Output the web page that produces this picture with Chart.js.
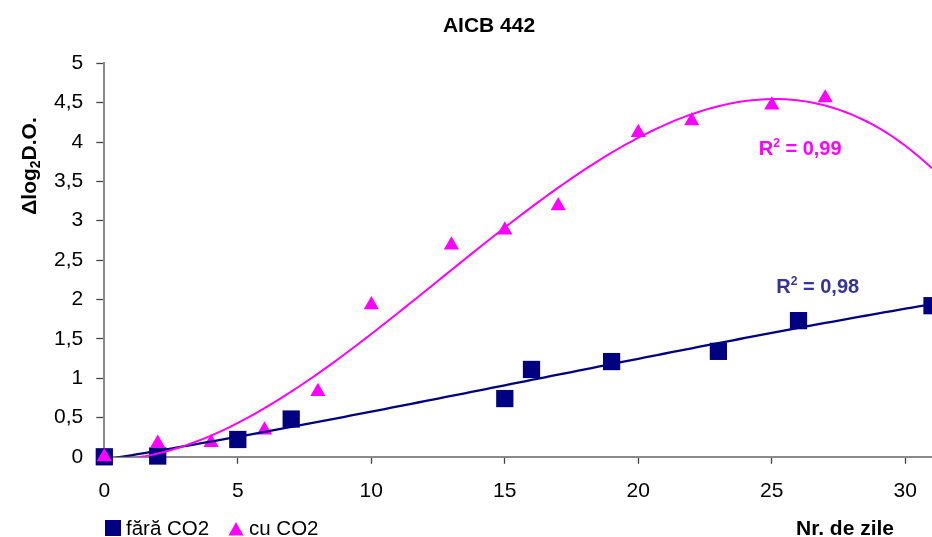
<!DOCTYPE html>
<html>
<head>
<meta charset="utf-8">
<script src="https://cdn.jsdelivr.net/npm/chart.js@4/dist/chart.umd.min.js"></script>
<style>
  html, body { margin: 0; padding: 0; background: #ffffff; }
  #wrap { position: relative; width: 932px; height: 537px; }
</style>
</head>
<body>
<div id="wrap"><canvas id="chart" width="932" height="537"></canvas></div>
<script>
// ---- data ----
const chartTitle = 'AICB 442';
const seriesNames = ['fără CO2', 'cu CO2'];
const xAxisTitle = 'Nr. de zile';

// fără CO2 (squares)
const daysFara = [0, 2, 5, 7, 15, 16, 19, 23, 26, 31];
const valuesFara = [0, 0.01, 0.22, 0.48, 0.74, 1.11, 1.21, 1.34, 1.73, 1.92];

// cu CO2 (triangles)
const daysCu = [0, 2, 4, 6, 8, 10, 13, 15, 17, 20, 22, 25, 27];
const valuesCu = [0, 0.17, 0.18, 0.34, 0.83, 1.93, 2.69, 2.88, 3.19, 4.12, 4.27, 4.47, 4.56];

// polynomial trend lines (order) and their R² labels
const trendOrderFara = 3;
const trendOrderCu = 3;
const r2Fara = '0,98';
const r2Cu = '0,99';

const xTickValues = [0, 5, 10, 15, 20, 25, 30];
const yTickValues = [0, 0.5, 1, 1.5, 2, 2.5, 3, 3.5, 4, 4.5, 5];

// ---- helpers ----
const FAMILY = '"Liberation Sans", Arial, Helvetica, sans-serif';
const NAVY = '#000080';
const MAGENTA = '#FF00FF';

const toPoints = (xs, ys) => xs.map((x, i) => ({ x, y: ys[i] }));
const fmt = v => String(v).replace('.', ',');

// least-squares polynomial fit, returns coefficients c0..cn
function polyfit(xs, ys, deg) {
  const n = deg + 1;
  const A = Array.from({ length: n }, () => new Array(n + 1).fill(0));
  for (let i = 0; i < xs.length; i++) {
    for (let r = 0; r < n; r++) {
      for (let c = 0; c < n; c++) A[r][c] += Math.pow(xs[i], r + c);
      A[r][n] += ys[i] * Math.pow(xs[i], r);
    }
  }
  for (let col = 0; col < n; col++) {
    let piv = col;
    for (let r = col + 1; r < n; r++) if (Math.abs(A[r][col]) > Math.abs(A[piv][col])) piv = r;
    [A[col], A[piv]] = [A[piv], A[col]];
    for (let r = 0; r < n; r++) {
      if (r === col) continue;
      const f = A[r][col] / A[col][col];
      for (let c = col; c <= n; c++) A[r][c] -= f * A[col][c];
    }
  }
  return A.map((row, i) => row[n] / row[i]);
}
const polyval = (coef, x) => coef.reduce((s, c, k) => s + c * Math.pow(x, k), 0);

const X_MIN = 0, X_MAX = 31;
function trendCurve(xs, ys, deg) {
  const coef = polyfit(xs, ys, deg);
  const pts = [];
  for (let k = 0; k <= 124; k++) {
    const x = X_MIN + (X_MAX - X_MIN) * k / 124;
    pts.push({ x, y: polyval(coef, x) });
  }
  return pts;
}

// ---- overlay: title, axis titles, R² labels, legend ----
function drawRich(ctx, parts, x, y, align) {
  // parts: [{text, size, dy}]
  let total = 0;
  for (const p of parts) { ctx.font = `bold ${p.size}px ${FAMILY}`; total += ctx.measureText(p.text).width; }
  let cx = align === 'center' ? x - total / 2 : x;
  ctx.textAlign = 'left';
  for (const p of parts) {
    ctx.font = `bold ${p.size}px ${FAMILY}`;
    ctx.fillText(p.text, cx, y + (p.dy || 0));
    cx += ctx.measureText(p.text).width;
  }
}

const overlay = {
  id: 'overlay',
  afterDraw(chart) {
    const ctx = chart.ctx;
    const xs = chart.scales.x, ys = chart.scales.y;
    ctx.save();
    ctx.textBaseline = 'alphabetic';

    // chart title
    ctx.fillStyle = '#000';
    ctx.font = `bold 21px ${FAMILY}`;
    ctx.textAlign = 'center';
    ctx.fillText(chartTitle, 489, 32);

    // y axis title (rotated, with subscript)
    ctx.save();
    ctx.translate(35.5, 166);
    ctx.rotate(-Math.PI / 2);
    drawRich(ctx, [
      { text: 'Δlog', size: 21 },
      { text: '2', size: 14, dy: 4 },
      { text: 'D.O.', size: 21 }
    ], 0, 0, 'center');
    ctx.restore();

    // x axis title
    ctx.font = `bold 21px ${FAMILY}`;
    ctx.textAlign = 'left';
    ctx.fillText(xAxisTitle, 796, 534.5);

    // R² labels
    ctx.fillStyle = MAGENTA;
    drawRich(ctx, [
      { text: 'R', size: 20 },
      { text: '2', size: 12, dy: -8 },
      { text: ' = ' + r2Cu, size: 20 }
    ], xs.getPixelForValue(24.51), ys.getPixelForValue(3.835), 'left');
    ctx.fillStyle = '#333399';
    drawRich(ctx, [
      { text: 'R', size: 20 },
      { text: '2', size: 12, dy: -8 },
      { text: ' = ' + r2Fara, size: 20 }
    ], xs.getPixelForValue(25.17), ys.getPixelForValue(2.077), 'left');

    // legend
    ctx.fillStyle = NAVY;
    ctx.fillRect(105, 520, 16, 16);
    ctx.fillStyle = '#000';
    ctx.font = `20.5px ${FAMILY}`;
    ctx.fillText(seriesNames[0], 126, 535);
    ctx.fillStyle = MAGENTA;
    ctx.beginPath();
    ctx.moveTo(236, 522);
    ctx.lineTo(243.5, 535.5);
    ctx.lineTo(228.5, 535.5);
    ctx.closePath();
    ctx.fill();
    ctx.fillStyle = '#000';
    ctx.fillText(seriesNames[1], 249, 535);

    ctx.restore();
  }
};

const tickFont = { family: FAMILY, size: 21 };

new Chart(document.getElementById('chart'), {
  type: 'scatter',
  data: {
    datasets: [
      {
        label: seriesNames[1] + ' trend',
        data: trendCurve(daysCu, valuesCu, trendOrderCu),
        showLine: true,
        borderColor: MAGENTA,
        borderWidth: 2,
        pointRadius: 0,
        tension: 0,
        order: 0
      },
      {
        label: seriesNames[0] + ' trend',
        data: trendCurve(daysFara, valuesFara, trendOrderFara),
        showLine: true,
        borderColor: NAVY,
        borderWidth: 2.3,
        pointRadius: 0,
        tension: 0,
        order: 1
      },
      {
        label: seriesNames[1],
        data: toPoints(daysCu, valuesCu),
        pointStyle: 'triangle',
        pointRadius: 8.8,
        pointBackgroundColor: MAGENTA,
        backgroundColor: MAGENTA,
        pointBorderWidth: 0,
        borderWidth: 0,
        clip: false,
        order: 2
      },
      {
        label: seriesNames[0],
        data: toPoints(daysFara, valuesFara),
        pointStyle: 'rect',
        pointRadius: 12.2,
        pointBackgroundColor: NAVY,
        backgroundColor: NAVY,
        pointBorderWidth: 0,
        borderWidth: 0,
        clip: false,
        order: 3
      }
    ]
  },
  options: {
    responsive: false,
    animation: false,
    events: [],
    layout: { autoPadding: false, padding: { top: 63.3, left: 0, right: 0, bottom: 0 } },
    plugins: {
      legend: { display: false },
      title: { display: false },
      tooltip: { enabled: false }
    },
    scales: {
      x: {
        type: 'linear',
        min: X_MIN,
        max: X_MAX,
        afterFit: s => { s.height = 80.2; s.paddingLeft = 0; s.paddingRight = 0; },
        afterBuildTicks: s => { s.ticks = xTickValues.map(v => ({ value: v })); },
        ticks: {
          color: '#000',
          font: tickFont,
          padding: 14.5,
          maxRotation: 0,
          autoSkip: false,
          includeBounds: false,
          callback: v => fmt(v)
        },
        grid: { drawOnChartArea: false, drawTicks: true, tickLength: 7, tickColor: '#444', tickWidth: 1.3 },
        border: { display: true, color: '#8a8a8a', width: 2 }
      },
      y: {
        type: 'linear',
        min: 0,
        max: 5,
        afterFit: s => { s.width = 104.3; s.paddingTop = 0; s.paddingBottom = 0; },
        afterBuildTicks: s => { s.ticks = yTickValues.map(v => ({ value: v })); },
        ticks: {
          color: '#000',
          font: tickFont,
          padding: 13,
          autoSkip: false,
          includeBounds: false,
          callback: v => fmt(v)
        },
        grid: { drawOnChartArea: false, drawTicks: true, tickLength: 8, tickColor: '#444', tickWidth: 1.3 },
        border: { display: true, color: '#8a8a8a', width: 2 }
      }
    }
  },
  plugins: [overlay]
});
</script>
</body>
</html>
